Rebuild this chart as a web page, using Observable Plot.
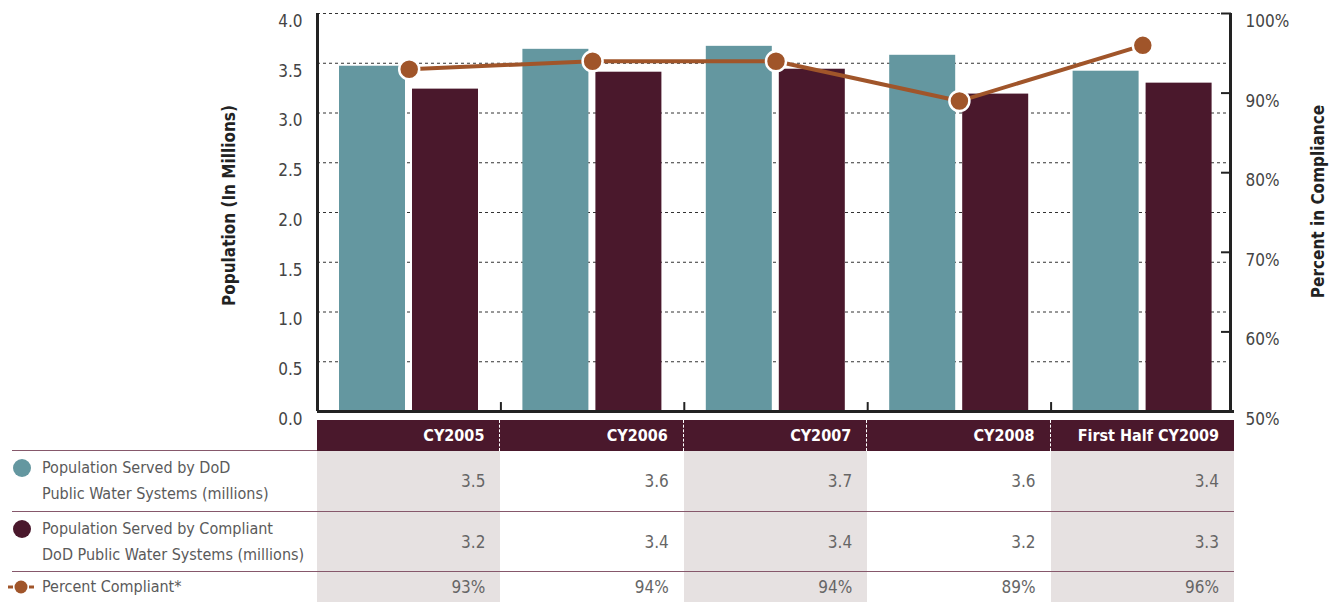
<!DOCTYPE html>
<html>
<head>
<meta charset="utf-8">
<script src="https://cdn.jsdelivr.net/npm/d3@7"></script>
<script src="https://cdn.jsdelivr.net/npm/@observablehq/plot@0.6"></script>
<style>
  body { margin: 0; background: #fff; }
  #wrap { position: relative; width: 1337px; height: 602px; overflow: hidden;
          font-family: "DejaVu Sans Condensed", "Liberation Sans Narrow", sans-serif; }
  #chart svg { display: block; overflow: visible; }
  #tbl { display: grid; }
  .cell { display: flex; align-items: center; justify-content: flex-end; box-sizing: border-box;
          padding-right: 15px; font-size: 17px; color: #666; white-space: nowrap; }
  .shade { background: #E6E1E1; }
  .hdr { background: #4A182C; color: #fff; font-weight: bold; font-size: 16px; }
  .dash { border-right: 1.5px dashed #fff; }
  .line { border-bottom: 1.5px solid #86586B; }
  .lab { justify-content: flex-start; margin-left: 12px; padding-left: 30px; padding-right: 0;
         color: #5a5a5a; line-height: 26px; font-size: 16px; }
  .labtxt { position: relative; }
  .mk { position: absolute; }
</style>
</head>
<body>
<div id="wrap"><div id="chart"></div><div id="tbl"></div></div>
<script>
// ---- data ----
const years = ["CY2005", "CY2006", "CY2007", "CY2008", "First Half CY2009"];
const served = [3.47, 3.64, 3.67, 3.58, 3.42];      // millions
const compliant = [3.24, 3.41, 3.44, 3.19, 3.30];   // millions
const percent = [93, 94, 94, 89, 96];               // %
const popTicks = [0, 0.5, 1, 1.5, 2, 2.5, 3, 3.5, 4];
const pctTicks = [50, 60, 70, 80, 90, 100];
const leftTitle = "Population (In Millions)";
const rightTitle = "Percent in Compliance";
const rowLabels = [
  ["Population Served by DoD", "Public Water Systems (millions)"],
  ["Population Served by Compliant", "DoD Public Water Systems (millions)"],
  ["Percent Compliant*"]
];

// ---- style ----
const TEAL = "#6497A0", MAROON = "#4A182C", BROWN = "#A0552A";
const W = 1337, H = 420, ML = 317, MR = 103, MT = 13, MB = 9;
const bw = (W - ML - MR) / years.length;
const pctToY = p => (p - 50) / 50 * 4;
const fmt1 = d3.format(".1f");
const font = '"DejaVu Sans Condensed", "Liberation Sans Narrow", sans-serif';

const rows = years.map((year, i) => ({year, served: served[i], compliant: compliant[i], pct: percent[i]}));

const chart = Plot.plot({
  width: W, height: H,
  marginLeft: ML, marginRight: MR, marginTop: MT, marginBottom: MB,
  style: {fontFamily: font, fontSize: "17px", background: "white", overflow: "visible"},
  x: {type: "band", domain: years, padding: 0, round: false, axis: null},
  y: {domain: [0, 4], axis: null, label: null},
  marks: [
    Plot.ruleY(popTicks.filter(t => t > 0), {stroke: "#333", strokeWidth: 1, strokeDasharray: "3,3"}),
    Plot.barY(rows, {x: "year", y: "served", fill: TEAL, insetLeft: 22, insetRight: bw - 22 - 66}),
    Plot.barY(rows, {x: "year", y: "compliant", fill: MAROON, insetLeft: 95, insetRight: bw - 95 - 66}),
    Plot.ruleY([0], {stroke: "#222", strokeWidth: 3}),
    Plot.ruleX([years[0]], {dx: -bw / 2, y1: 0, y2: 4, stroke: "#222", strokeWidth: 3}),
    Plot.ruleX([years[years.length - 1]], {dx: bw / 2 - 4, y1: 0, y2: 4, stroke: "#222", strokeWidth: 3}),
    Plot.ruleX(years.slice(1), {dx: -bw / 2, y1: 0, y2: 0.09, stroke: "#222", strokeWidth: 2}),
    Plot.axisY(popTicks, {anchor: "left", tickSize: 0, tickPadding: 15, dy: 8,
      tickFormat: fmt1, fill: "#444", fontSize: 17, label: null}),
    Plot.axisY(pctTicks.map(pctToY), {anchor: "right", tickSize: 10, dx: -14, fill: "none",
      stroke: "#222", strokeWidth: 2, label: null}),
    Plot.axisY(pctTicks.map(pctToY), {anchor: "right", tickSize: 0, tickPadding: 11, dy: 8,
      tickFormat: v => Math.round(v * 12.5 + 50) + "%", fill: "#444", fontSize: 17, label: null}),
    Plot.line(rows, {x: "year", y: d => pctToY(d.pct), stroke: BROWN, strokeWidth: 4}),
    Plot.dot(rows, {x: "year", y: d => pctToY(d.pct), r: 10, fill: BROWN, stroke: "white", strokeWidth: 2.5}),
    Plot.text([leftTitle], {frameAnchor: "left", textAnchor: "middle", rotate: -90, dx: -88, dy: -7,
      fontWeight: "bold", fontSize: 17, fill: "#222"}),
    Plot.text([rightTitle], {frameAnchor: "right", textAnchor: "middle", rotate: -90, dx: 84, dy: -11,
      fontWeight: "bold", fontSize: 17, fill: "#222"})
  ]
});
document.getElementById("chart").appendChild(chart);

// ---- data table below the chart ----
const xs = chart.scale("x");
const colW = xs.bandwidth != null ? xs.bandwidth : bw;
const tbl = d3.select("#tbl")
  .style("grid-template-columns", `${ML}px repeat(${years.length}, ${colW}px)`)
  .style("grid-template-rows", "31px 61px 60px 30px");

// header
tbl.append("div").attr("class", "cell lab line");
years.forEach((y, i) => {
  tbl.append("div")
    .attr("class", "cell hdr" + (i < years.length - 1 ? " dash" : ""))
    .text(y);
});

const rowValues = [served.map(fmt1), compliant.map(fmt1), percent.map(p => p + "%")];
const markers = [
  `<svg class="mk" width="20" height="20" style="left:-30px;top:3px"><circle cx="10" cy="10" r="9" fill="${TEAL}"/></svg>`,
  `<svg class="mk" width="20" height="20" style="left:-30px;top:3px"><circle cx="10" cy="10" r="9" fill="${MAROON}"/></svg>`,
  `<svg class="mk" width="34" height="16" style="left:-38px;top:5px"><line x1="4" y1="8" x2="9" y2="8" stroke="${BROWN}" stroke-width="3"/><circle cx="17" cy="8" r="6.5" fill="${BROWN}"/><line x1="25" y1="8" x2="30" y2="8" stroke="${BROWN}" stroke-width="3"/></svg>`
];

rowLabels.forEach((lines, r) => {
  const lastRow = r === rowLabels.length - 1;
  const lab = tbl.append("div").attr("class", "cell lab" + (lastRow ? "" : " line"));
  const t = lab.append("div").attr("class", "labtxt");
  t.html(markers[r] + lines.join("<br>"));
  rowValues[r].forEach((v, i) => {
    tbl.append("div")
      .attr("class", "cell" + (i % 2 === 0 ? " shade" : "") + (lastRow ? "" : " line"))
      .text(v);
  });
});
</script>
</body>
</html>
